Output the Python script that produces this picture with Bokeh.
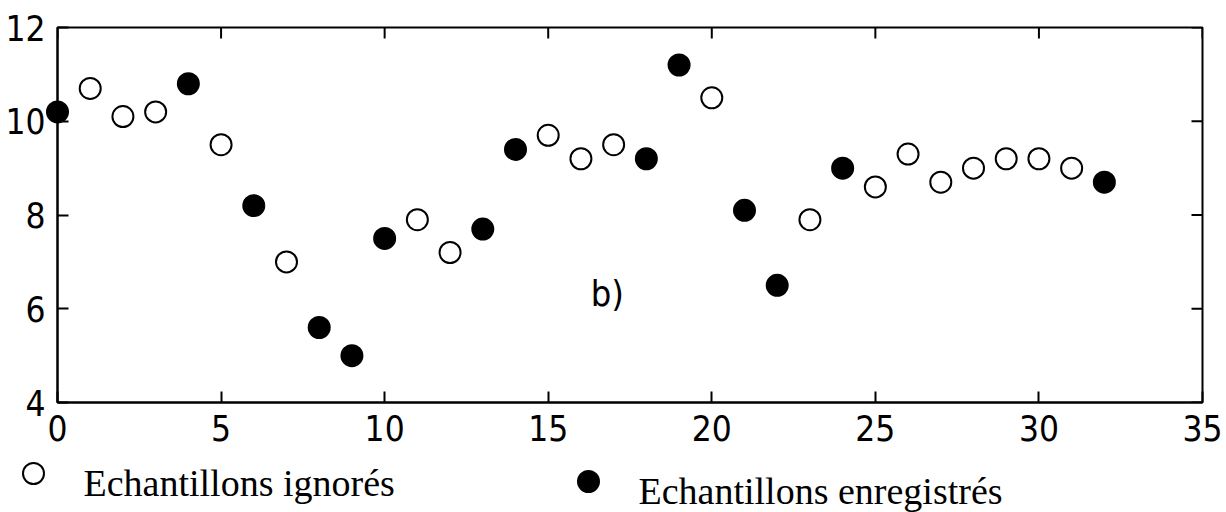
from bokeh.plotting import figure
from bokeh.layouts import column
from bokeh.models import Range1d, FixedTicker, ColumnDataSource
from bokeh.embed import file_html
from bokeh.resources import INLINE
from bokeh.core.properties import value

# ---- data ----
x_ignored = [1, 2, 3, 5, 7, 11, 12, 15, 16, 17, 20, 23, 25, 26, 27, 28, 29, 30, 31]
y_ignored = [10.7, 10.1, 10.2, 9.5, 7.0, 7.9, 7.2, 9.7, 9.2, 9.5, 10.5, 7.9, 8.6, 9.3, 8.7, 9.0, 9.2, 9.2, 9.0]
x_recorded = [0, 4, 6, 8, 9, 10, 13, 14, 18, 19, 21, 22, 24, 32]
y_recorded = [10.2, 10.8, 8.2, 5.6, 5.0, 7.5, 7.7, 9.4, 9.2, 11.2, 8.1, 6.5, 9.0, 8.7]
x_ticks = [0, 5, 10, 15, 20, 25, 30, 35]
y_ticks = [4, 6, 8, 10, 12]
x_lim = (0, 35)
y_lim = (4, 12)
label_ignored = "Echantillons ignorés"
label_recorded = "Echantillons enregistrés"
annotation_text = ["b)"]
annotation_x = [16.3]
annotation_y = [6.33]

TICK_FONT = "'Liberation Sans Narrow', 'DejaVu Sans Condensed', sans-serif"
SERIF = "'Liberation Serif', serif"

W, H = 1226, 512
H_MAIN = 458
BL, BT, BR, BB = 57, 27, 24, 56
MARKER_SIZE = 21

p = figure(width=W, height=H_MAIN, output_backend="svg", toolbar_location=None,
           x_range=Range1d(*x_lim), y_range=Range1d(*y_lim),
           min_border_left=BL, min_border_right=BR, min_border_top=BT, min_border_bottom=BB)
p.frame_align = False
p.background_fill_color = "white"
p.border_fill_color = "white"
p.outline_line_color = "black"
p.outline_line_width = 2
p.xgrid.visible = False
p.ygrid.visible = False

TICK_LEN = 11
for ax in (p.xaxis[0], p.yaxis[0]):
    ax.axis_line_width = 2
    ax.axis_line_color = "black"
    ax.major_tick_in = TICK_LEN
    ax.major_tick_out = 0
    ax.major_tick_line_width = 2
    ax.minor_tick_line_color = None
    ax.major_label_text_font = TICK_FONT
    ax.major_label_text_font_size = "35px"
    ax.major_label_text_color = "black"
    ax.major_label_standoff = 12
p.xaxis[0].ticker = FixedTicker(ticks=x_ticks)
p.yaxis[0].ticker = FixedTicker(ticks=y_ticks)

# mirrored inward ticks on top and right edges (MATLAB box style)
frame_w = W - BL - BR
frame_h = H_MAIN - BT - BB
dy = TICK_LEN * (y_lim[1] - y_lim[0]) / frame_h
dx = TICK_LEN * (x_lim[1] - x_lim[0]) / frame_w
p.segment(x0=x_ticks, y0=[y_lim[1]] * len(x_ticks), x1=x_ticks, y1=[y_lim[1] - dy] * len(x_ticks),
          line_color="black", line_width=2)
p.segment(x0=[x_lim[1]] * len(y_ticks), y0=y_ticks, x1=[x_lim[1] - dx] * len(y_ticks), y1=y_ticks,
          line_color="black", line_width=2)

src_ign = ColumnDataSource(dict(x=x_ignored, y=y_ignored))
src_rec = ColumnDataSource(dict(x=x_recorded, y=y_recorded))
p.scatter("x", "y", source=src_ign, size=MARKER_SIZE, marker="circle",
          fill_color="white", line_color="black", line_width=2, level="overlay")
p.scatter("x", "y", source=src_rec, size=MARKER_SIZE, marker="circle",
          fill_color="black", line_color="black", line_width=2, level="overlay")

p.text(x=annotation_x, y=annotation_y, text=annotation_text, text_font=value(TICK_FONT),
       text_font_size="36px", text_color="black", text_align="left", text_baseline="middle")

# ---- legend strip below the chart (page-like coordinates, y downwards) ----
leg = figure(width=W, height=H - H_MAIN, output_backend="svg", toolbar_location=None,
             x_range=Range1d(0, W), y_range=Range1d(H, H_MAIN),
             min_border=0, min_border_left=0, min_border_right=0, min_border_top=0, min_border_bottom=0)
leg.frame_align = False
leg.axis.visible = False
leg.xgrid.visible = False
leg.ygrid.visible = False
leg.outline_line_color = None
leg.background_fill_color = "white"
leg.border_fill_color = "white"

LEG_MARKER_X = [33, 588]
LEG_MARKER_Y = [473, 481]
LEG_TEXT_X = [83, 638]
LEG_TEXT_Y = [482, 490]
leg.scatter(x=[LEG_MARKER_X[0]], y=[LEG_MARKER_Y[0]], size=MARKER_SIZE, marker="circle",
            fill_color="white", line_color="black", line_width=2, level="overlay")
leg.scatter(x=[LEG_MARKER_X[1]], y=[LEG_MARKER_Y[1]], size=MARKER_SIZE, marker="circle",
            fill_color="black", line_color="black", line_width=2, level="overlay")
leg.text(x=LEG_TEXT_X, y=LEG_TEXT_Y, text=[label_ignored, label_recorded],
         text_font=value(SERIF), text_font_size="38px", text_color="black",
         text_align="left", text_baseline="alphabetic", level="overlay")

layout = column(p, leg, spacing=0)
open("out.html", "w").write(file_html(layout, INLINE))
